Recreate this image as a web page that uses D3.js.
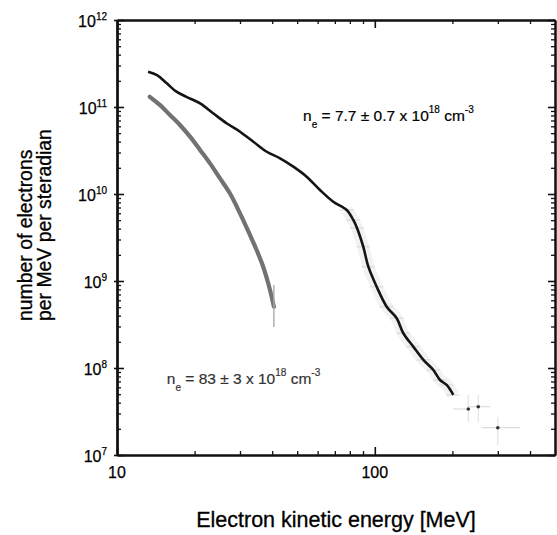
<!DOCTYPE html>
<html><head><meta charset="utf-8">
<script src="https://cdn.jsdelivr.net/npm/d3@7"></script>
<style>body{margin:0;background:#fff} svg{display:block} text{font-family:"Liberation Sans",Arial,Helvetica,sans-serif}</style>
</head><body>
<svg id="c" width="557" height="535"></svg>
<script>
// ---- data ----
const xMajor = [10, 100];
const xMinor = [20,30,40,50,60,70,80,90,200,300,400];
const yMajorExp = [7, 8, 9, 10, 11, 12];
// n_e = 7.7e18 cm^-3 spectrum
const lowDensE = [13.2,14.3,15.6,17.0,18.6,21.0,23.6,26.6,30.0,33.8,38.1,42.9,48.3,54.4,61.3,69.0,77.8,82.5,85.3,90.2,94.4,101.7,111.2,121.6,129.0,141.0,154.3,168.7,179.0,190.0,201.6];
const lowDensN = [2.55e11,2.33e11,1.87e11,1.50e11,1.31e11,1.10e11,8.47e10,6.50e10,5.20e10,3.99e10,3.06e10,2.57e10,2.06e10,1.58e10,1.11e10,8.15e9,6.55e9,5.03e9,4.07e9,2.48e9,1.46e9,8.59e8,5.07e8,3.73e8,2.51e8,1.76e8,1.24e8,9.48e7,7.28e7,6.38e7,4.90e7];
// isolated tail points with error bars
const tailE   = [230.5, 252, 300];
const tailN   = [3.38e7, 3.59e7, 2.06e7];
const tailELo = [201, 230, 260];
const tailEHi = [234, 280, 366];
const tailNLo = [2.4e7, 2.4e7, 1.3e7];
const tailNHi = [4.9e7, 4.9e7, 2.7e7];
// n_e = 83e18 cm^-3 spectrum
const highDensE = [13.4,14.7,16.05,17.55,19.2,21.0,22.95,25.1,27.4,30.0,32.8,34.8,36.9,38.6,39.8,40.6];
const highDensN = [1.31e11,1.05e11,8.09e10,6.21e10,4.56e10,3.21e10,2.25e10,1.51e10,1.02e10,6.0e9,3.38e9,2.27e9,1.46e9,9.42e8,6.6e8,5.07e8];
const highDensEndErr = [2.96e8, 9.0e8];
const xTitle = "Electron kinetic energy [MeV]";
const yTitle = ["number of electrons", "per MeV per steradian"];

// ---- layout ----
const L = 117, R = 555, T = 20, B = 455;
const svg = d3.select("#c");
const x = d3.scaleLog().domain([10, 500]).range([L, R]);
const y = d3.scaleLog().domain([1e7, 1e12]).range([B, T]);
const yMajor = yMajorExp.map(e => Math.pow(10, e));
const yMinor = [];
yMajorExp.slice(0, -1).forEach(e => { for (let k = 2; k <= 9; k++) yMinor.push(k * Math.pow(10, e)); });

function styleAxis(g, w) {
  g.selectAll("path.domain").attr("stroke", "#111").attr("stroke-width", 2);
  g.selectAll(".tick line").attr("stroke", "#111").attr("stroke-width", w);
  g.selectAll(".tick text").remove();
}
// bottom
svg.append("g").attr("transform", `translate(0,${B})`).call(d3.axisBottom(x).tickValues(xMajor).tickSize(-8).tickSizeOuter(0)).call(g => styleAxis(g, 1.6));
svg.append("g").attr("transform", `translate(0,${B})`).call(d3.axisBottom(x).tickValues(xMinor).tickSize(-4).tickSizeOuter(0)).call(g => styleAxis(g, 1.3));
// top
svg.append("g").attr("transform", `translate(0,${T})`).call(d3.axisTop(x).tickValues(xMajor).tickSize(-8).tickSizeOuter(0)).call(g => styleAxis(g, 1.6));
svg.append("g").attr("transform", `translate(0,${T})`).call(d3.axisTop(x).tickValues(xMinor).tickSize(-4).tickSizeOuter(0)).call(g => styleAxis(g, 1.3));
// left
svg.append("g").attr("transform", `translate(${L},0)`).call(d3.axisLeft(y).tickValues(yMajor).tickSizeInner(-7).tickSizeOuter(0)).call(g => styleAxis(g, 1.6));
svg.append("g").attr("transform", `translate(${L},0)`).call(d3.axisLeft(y).tickValues(yMinor).tickSize(-4).tickSizeOuter(0)).call(g => styleAxis(g, 1.3));
svg.append("g").attr("transform", `translate(${L},0)`).call(d3.axisLeft(y).tickValues(yMajor).tickSize(3).tickSizeOuter(0)).call(g => styleAxis(g, 1.6));
// right
svg.append("g").attr("transform", `translate(${R},0)`).call(d3.axisRight(y).tickValues(yMajor).tickSize(-7).tickSizeOuter(0)).call(g => styleAxis(g, 1.6));
svg.append("g").attr("transform", `translate(${R},0)`).call(d3.axisRight(y).tickValues(yMinor).tickSize(-4).tickSizeOuter(0)).call(g => styleAxis(g, 1.3));

// tick labels
svg.append("g").selectAll("text").data(xMajor).join("text")
  .attr("x", d => x(d)).attr("y", B + 23).attr("text-anchor", "middle")
  .attr("font-size", 16).attr("fill", "#000").attr("stroke", "#000").attr("stroke-width", 0.25).text(d => d);
const yl = svg.append("g").selectAll("text").data(yMajorExp).join("text")
  .attr("x", L - 10).attr("y", d => y(Math.pow(10, d)) + 7).attr("text-anchor", "end")
  .attr("font-size", 16).attr("fill", "#000").attr("stroke", "#000").attr("stroke-width", 0.25);
yl.append("tspan").text("10");
yl.append("tspan").attr("dy", -7).attr("font-size", 10).text(d => d);

// axis titles
svg.append("text").attr("x", (L + R) / 2).attr("y", 527).attr("text-anchor", "middle")
  .attr("font-size", 21.5).attr("fill", "#000").attr("stroke", "#000").attr("stroke-width", 0.3).text(xTitle);
svg.append("g").selectAll("text").data(yTitle).join("text")
  .attr("transform", (d, i) => `translate(${32 + i * 19},321) rotate(-90)`)
  .attr("text-anchor", "start").attr("font-size", 19.4).attr("fill", "#000")
  .attr("stroke", "#000").attr("stroke-width", 0.3).text(d => d);

// curves
const line = d3.line().x(d => x(d[0])).y(d => y(d[1])).curve(d3.curveCatmullRom.alpha(0.5));
const lowPts = lowDensE.map((e, i) => [e, lowDensN[i]]);
const highPts = highDensE.map((e, i) => [e, highDensN[i]]);
const tailBand = lowPts.filter(d => d[0] >= 75);
svg.append("path").datum(tailBand).attr("d", line).attr("fill", "none")
  .attr("stroke", "#000").attr("stroke-opacity", 0.05).attr("stroke-width", 12);
svg.append("g").selectAll("line").data(tailBand).join("line")
  .attr("x1", d => x(d[0] * 0.94)).attr("x2", d => x(d[0] * 1.06))
  .attr("y1", d => y(d[1])).attr("y2", d => y(d[1]))
  .attr("stroke", "#ccc").attr("stroke-opacity", 0.5).attr("stroke-width", 1.5);
svg.append("path").datum(lowPts).attr("d", line).attr("fill", "none")
  .attr("stroke", "#141414").attr("stroke-width", 2.6).attr("stroke-linejoin", "round");
svg.append("path").datum(highPts).attr("d", line).attr("fill", "none")
  .attr("stroke", "#727272").attr("stroke-width", 4.2).attr("stroke-linecap", "round");
// end error bar of the gray curve
svg.append("line").attr("x1", x(highDensE[highDensE.length - 1])).attr("x2", x(highDensE[highDensE.length - 1]))
  .attr("y1", y(highDensEndErr[0])).attr("y2", y(highDensEndErr[1]))
  .attr("stroke", "#aaa").attr("stroke-width", 1.4);

// tail points with error bars
const tg = svg.append("g");
tailE.forEach((e, i) => {
  tg.append("line").attr("x1", x(tailELo[i])).attr("x2", x(tailEHi[i])).attr("y1", y(tailN[i])).attr("y2", y(tailN[i]))
    .attr("stroke", "#ddd").attr("stroke-width", 1.2);
  tg.append("line").attr("x1", x(e)).attr("x2", x(e)).attr("y1", y(tailNLo[i])).attr("y2", y(tailNHi[i]))
    .attr("stroke", "#e4e4e4").attr("stroke-width", 1.2);
  tg.append("circle").attr("cx", x(e)).attr("cy", y(tailN[i])).attr("r", 1.8).attr("fill", "#333");
});

// annotations
function annot(ex, ny, pre, col) {
  const t = svg.append("text").attr("x", x(ex)).attr("y", y(ny)).attr("font-size", 15.5).attr("fill", col)
    .attr("stroke", col).attr("stroke-width", 0.2);
  t.append("tspan").text("n");
  t.append("tspan").attr("dy", 7).attr("font-size", 10).text("e");
  t.append("tspan").attr("dy", -7).text(" = " + pre + " x 10");
  t.append("tspan").attr("dy", -8).attr("font-size", 10).text("18");
  t.append("tspan").attr("dy", 8).text(" cm");
  t.append("tspan").attr("dy", -8).attr("font-size", 10).text("-3");
}
annot(52.7, 6.9e10, "7.7 ± 0.7", "#000");
annot(15.6, 6.55e7, "83 ± 3", "#333");
</script>
</body></html>
